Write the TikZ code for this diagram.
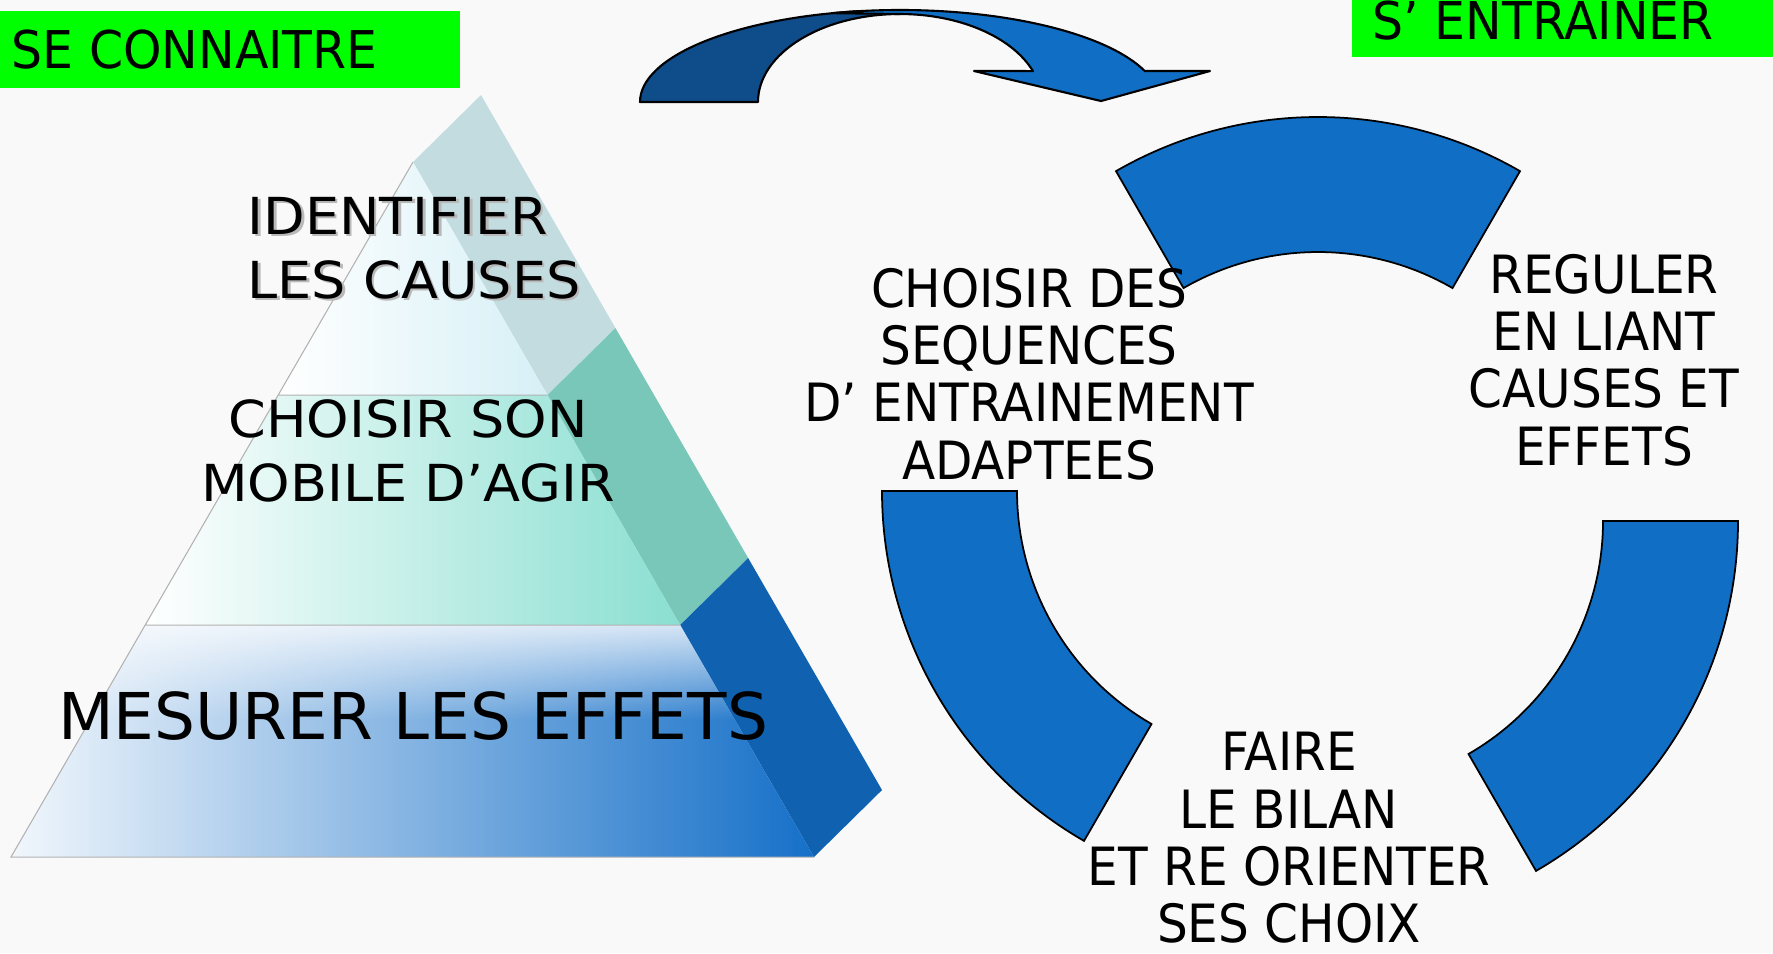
\documentclass[tikz,border=0pt]{standalone}
\usepackage{fontspec}
\setmainfont{DejaVu Sans}
\newfontfamily\slimfont{DejaVu Sans}[FakeStretch=0.92]
\newfontfamily\tagfont{DejaVu Sans}[FakeStretch=0.94]
\newfontfamily\widefont{DejaVu Sans}[FakeStretch=1.06]
\usetikzlibrary{calc,fadings}
\definecolor{bgpaper}{RGB}{249,249,249}
\definecolor{tagGreen}{RGB}{0,255,0}
\definecolor{segblue}{RGB}{16,110,197}
\definecolor{arrowback}{RGB}{14,76,138}
\definecolor{toptint}{RGB}{214,240,246}
\definecolor{midtint}{RGB}{138,223,209}
\definecolor{lowtint}{RGB}{22,112,200}
\definecolor{sidetop}{RGB}{195,220,224}
\definecolor{sidemid}{RGB}{121,199,185}
\definecolor{sidelow}{RGB}{16,98,176}
\tikzfading[name=whitetop, top color=transparent!0, bottom color=transparent!100]
\tikzstyle{ringseg}=[draw=black, fill=segblue, line width=0.5pt]
\tikzstyle{arrowline}=[draw=black, line width=0.6pt, line join=round]
\tikzstyle{tagtext}=[inner sep=0pt, font=\tagfont\fontsize{14.8}{16}\selectfont]
\tikzstyle{pyrtext}=[inner sep=0pt, font=\widefont\fontsize{14.5}{18.1}\selectfont]
\tikzstyle{cycletext}=[inner sep=0pt, align=center, font=\slimfont\fontsize{15}{16.3}\selectfont]

\begin{document}
\begin{tikzpicture}[x=0.01cm, y=-0.01cm]
    \useasboundingbox (0,0) rectangle (1773,953);
    \fill[bgpaper] (0,0) rectangle (1773,953);

    % green tags
    \fill[tagGreen] (0,11) rectangle (460,88);
    \fill[tagGreen] (1352,0) rectangle (1773,57);
    \node[tagtext, anchor=base west] (seconn) at (11,68) {SE CONNAITRE};
    \node[tagtext, anchor=base west] (sentr) at (1372,39) {S’ ENTRAINER};

    % pyramid
    \coordinate (FL) at (11,857);
    \coordinate (FR) at (814,857);
    \coordinate (FT) at (413,162);
    \coordinate (L1) at ($(FL)!0.6647!(FT)$);
    \coordinate (R1) at ($(FR)!0.6647!(FT)$);
    \coordinate (L2) at ($(FL)!0.3338!(FT)$);
    \coordinate (R2) at ($(FR)!0.3338!(FT)$);

    \foreach \a/\b/\col in {FT/R1/sidetop, R1/R2/sidemid, R2/FR/sidelow}
        \fill[\col] (\a) -- ($(\a)+(68,-67)$) -- ($(\b)+(68,-67)$) -- (\b) -- cycle;

    \shade[left color=white, right color=toptint] (FT) -- (L1) -- (R1) -- cycle;
    \shade[left color=white, right color=midtint] (L1) -- (R1) -- (R2) -- (L2) -- cycle;
    \shade[left color=white!94!lowtint, right color=lowtint] (L2) -- (R2) -- (FR) -- (FL) -- cycle;
    \begin{scope}
        \clip (L2) -- (R2) -- (FR) -- (FL) -- cycle;
        \fill[white, path fading=whitetop] (0,600) rectangle (900,720);
    \end{scope}
    \draw[gray!60, line width=0.3pt] (FR) -- (FL) -- (FT) (L1) -- (R1) (L2) -- (R2);

    \node[pyrtext, text=gray!55, anchor=west, align=left] (identshadow) at (249.5,250.5) {IDENTIFIER\\LES CAUSES};
    \node[pyrtext, anchor=west, align=left] (ident) at (247,248) {IDENTIFIER\\LES CAUSES};
    \node[pyrtext, align=center] (mobile) at (408,451) {CHOISIR SON\\MOBILE D’AGIR};
    \node[inner sep=0pt, anchor=base, font=\fontsize{18.35}{20}\selectfont] (mesure) at (413,739) {MESURER LES EFFETS};

    % curved arrow on top
    \coordinate (arc0) at (900,102);
    \draw[arrowline, fill=arrowback] ($(arc0)+(180:260 and 92)$)
        arc[start angle=180, end angle=261, x radius=260, y radius=92]
        -- ($(arc0)+(270:142 and 88)$)
        arc[start angle=270, end angle=180, x radius=142, y radius=88] -- cycle;
    \draw[arrowline, fill=segblue] ($(arc0)+(270:142 and 88)$)
        arc[start angle=270, end angle=339.4, x radius=142, y radius=88]
        -- (974,71) -- (1101,101) -- (1210,71)
        -- ($(arc0)+(340.3:260 and 92)$)
        arc[start angle=340.3, end angle=255, x radius=260, y radius=92] -- cycle;

    % cycle segments
    \foreach \cx/\cy/\a/\b in {1318/521/240/300, 1286/491/180/120, 1334/521/0/60}
        \draw[ringseg] ($(\cx,\cy)+(\a:404)$) arc[start angle=\a, end angle=\b, radius=404]
            -- ($(\cx,\cy)+(\b:269)$) arc[start angle=\b, end angle=\a, radius=269] -- cycle;

    \node[cycletext] (sequences) at (1029,374) {CHOISIR DES\\SEQUENCES\\D’ ENTRAINEMENT\\ADAPTEES};
    \node[cycletext] (reguler) at (1604,360) {REGULER\\EN LIANT\\CAUSES ET\\EFFETS};
    \node[cycletext] (bilan) at (1289,838) {FAIRE\\LE BILAN\\ET RE ORIENTER\\SES CHOIX};
\end{tikzpicture}
\end{document}
